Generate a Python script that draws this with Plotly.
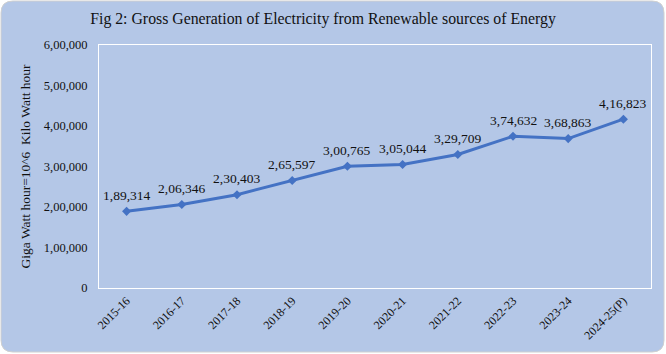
import plotly.graph_objects as go

years = ["2015-16", "2016-17", "2017-18", "2018-19", "2019-20", "2020-21",
         "2021-22", "2022-23", "2023-24", "2024-25(P)"]
generation = [189314, 206346, 230403, 265597, 300765, 305044, 329709, 374632, 368863, 416823]
y_ticks = [0, 100000, 200000, 300000, 400000, 500000, 600000]


def indian(n):
    s = str(int(n))
    if len(s) <= 3:
        return s
    last3 = s[-3:]
    rest = s[:-3]
    parts = []
    while len(rest) > 2:
        parts.insert(0, rest[-2:])
        rest = rest[:-2]
    if rest:
        parts.insert(0, rest)
    return ",".join(parts + [last3])


FONT = "Liberation Serif"
BG = "#B4C7E7"

fig = go.Figure()
fig.add_trace(go.Scatter(
    x=years, y=generation, mode="lines+markers",
    line=dict(color="#4472C4", width=3),
    marker=dict(symbol="diamond", size=7, color="#4472C4"),
    cliponaxis=False, hoverinfo="skip", showlegend=False,
))

W, H = 666, 354
L, R, T, B = 99, 15, 45, 66
pw, ph = W - L - R, H - T - B

annotations = [dict(x=xv, y=yv, xref="x", yref="y", text=indian(yv), showarrow=False,
                    yshift=16, font=dict(family=FONT, size=13.5, color="#111111"))
               for xv, yv in zip(years, generation)]


def px(x):
    return (x - L) / pw


def py(y):
    return (H - B - y) / ph


x0, x1, y0, y1, r = 1, W - 2, 1, H - 2, 12
path = (f"M {px(x0 + r)} {py(y0)} L {px(x1 - r)} {py(y0)} "
        f"Q {px(x1)} {py(y0)} {px(x1)} {py(y0 + r)} "
        f"L {px(x1)} {py(y1 - r)} Q {px(x1)} {py(y1)} {px(x1 - r)} {py(y1)} "
        f"L {px(x0 + r)} {py(y1)} Q {px(x0)} {py(y1)} {px(x0)} {py(y1 - r)} "
        f"L {px(x0)} {py(y0 + r)} Q {px(x0)} {py(y0)} {px(x0 + r)} {py(y0)} Z")

fig.update_layout(
    width=W, height=H,
    margin=dict(l=L, r=R, t=T, b=B),
    paper_bgcolor="white", plot_bgcolor=BG,
    font=dict(family=FONT, color="#111111"),
    annotations=annotations,
    title=dict(text="Fig 2: Gross Generation of Electricity from Renewable sources of Energy",
               x=0.485, xanchor="center", y=1 - 18 / H, yanchor="middle",
               font=dict(family=FONT, size=15.8, color="#111111")),
    shapes=[dict(type="path", path=path, xref="paper", yref="paper",
                 fillcolor=BG, line=dict(color="#D0D0D0", width=1), layer="below")],
    xaxis=dict(type="category", showgrid=False, showline=True, mirror=True,
               linecolor="white", linewidth=1, tickangle=-45, ticks="",
               tickfont=dict(family=FONT, size=12, color="#111111"),
               range=[-0.5, len(years) - 0.5], zeroline=False),
    yaxis=dict(range=[0, 600000], tickvals=y_ticks,
               ticktext=[indian(v) for v in y_ticks], showgrid=False,
               showline=True, mirror=True, linecolor="white", linewidth=1,
               ticks="", ticklabelstandoff=8, zeroline=False,
               tickfont=dict(family=FONT, size=12.5, color="#111111"),
               title=dict(text="Giga Watt hour=10^6  Kilo Watt hour", standoff=10,
                          font=dict(family=FONT, size=13.5, color="#111111"))),
)

fig.write_html("out.html")
